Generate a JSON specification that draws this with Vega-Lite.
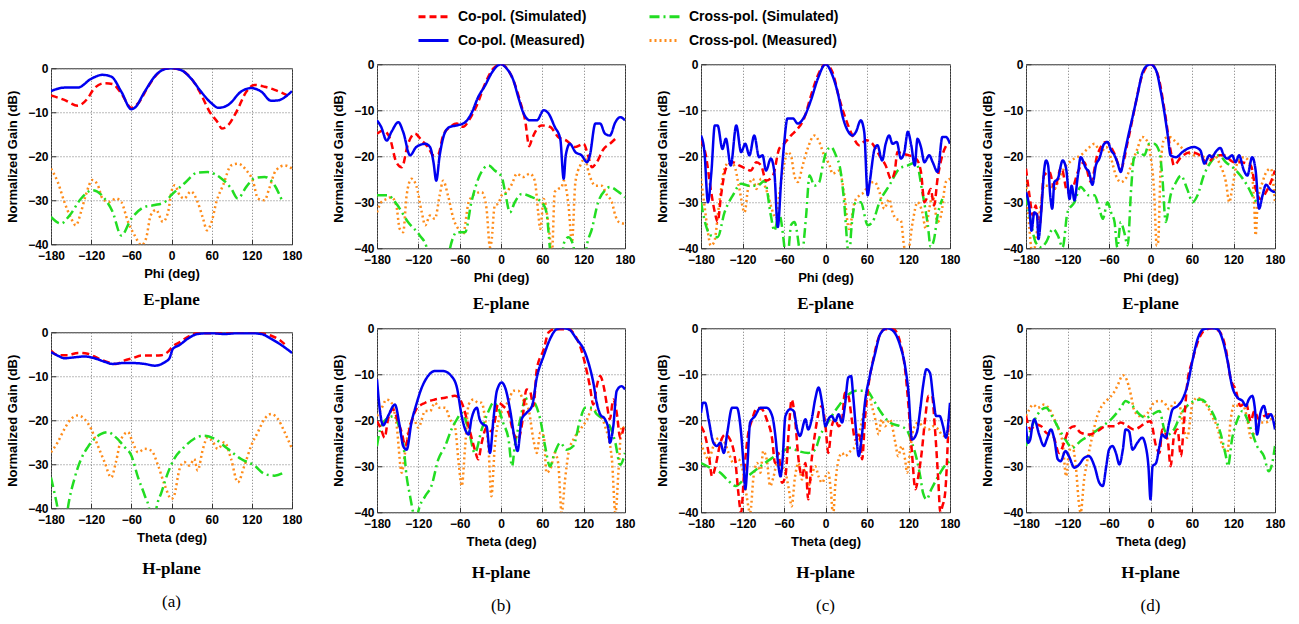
{
"$schema": "https://vega.github.io/schema/vega-lite/v6.json",
"background": "white",
"padding": {"left": 6, "top": 0, "right": 5, "bottom": 5},
"datasets": {
"a1": [
{"s":"xm","x":-180,"y":-22.8},{"s":"xm","x":-170,"y":-25.8},{"s":"xm","x":-160,"y":-30.4},{"s":"xm","x":-150,"y":-34.1},{"s":"xm","x":-143,"y":-35.7},{"s":"xm","x":-135,"y":-32.6},{"s":"xm","x":-128,"y":-28.8},{"s":"xm","x":-118,"y":-25.4},{"s":"xm","x":-110,"y":-26.6},{"s":"xm","x":-103,"y":-29.6},{"s":"xm","x":-93,"y":-30.4},{"s":"xm","x":-83,"y":-29.6},{"s":"xm","x":-75,"y":-30.4},{"s":"xm","x":-65,"y":-34.9},{"s":"xm","x":-55,"y":-38},{"s":"xm","x":-45,"y":-40.2},{"s":"xm","x":-38,"y":-38.7},{"s":"xm","x":-31,"y":-33.4},{"s":"xm","x":-23,"y":-32.2},{"s":"xm","x":-13,"y":-34.9},{"s":"xm","x":-5,"y":-32.6},{"s":"xm","x":0,"y":-28},{"s":"xm","x":5,"y":-26.6},{"s":"xm","x":12,"y":-28.8},{"s":"xm","x":19,"y":-29.6},{"s":"xm","x":29,"y":-28},{"s":"xm","x":39,"y":-30.4},{"s":"xm","x":47,"y":-34.1},{"s":"xm","x":53,"y":-36.8},{"s":"xm","x":60,"y":-34.9},{"s":"xm","x":67,"y":-30.4},{"s":"xm","x":77,"y":-26.6},{"s":"xm","x":89,"y":-22.1},{"s":"xm","x":99,"y":-21.7},{"s":"xm","x":112,"y":-23.2},{"s":"xm","x":122,"y":-25.8},{"s":"xm","x":129,"y":-29.6},{"s":"xm","x":139,"y":-30},{"s":"xm","x":146,"y":-27.3},{"s":"xm","x":156,"y":-23.2},{"s":"xm","x":169,"y":-22.1},{"s":"xm","x":180,"y":-22.8},
{"s":"xs","x":-180,"y":-33.8},{"s":"xs","x":-165,"y":-35.3},{"s":"xs","x":-152,"y":-33.4},{"s":"xs","x":-135,"y":-29.6},{"s":"xs","x":-118,"y":-27.7},{"s":"xs","x":-100,"y":-29.6},{"s":"xs","x":-88,"y":-32.6},{"s":"xs","x":-75,"y":-38},{"s":"xs","x":-60,"y":-34.2},{"s":"xs","x":-40,"y":-31.5},{"s":"xs","x":-25,"y":-31.1},{"s":"xs","x":-10,"y":-30.4},{"s":"xs","x":0,"y":-28.8},{"s":"xs","x":19,"y":-26.2},{"s":"xs","x":39,"y":-23.7},{"s":"xs","x":54,"y":-23.6},{"s":"xs","x":74,"y":-25},{"s":"xs","x":89,"y":-27.3},{"s":"xs","x":99,"y":-29.6},{"s":"xs","x":112,"y":-26.9},{"s":"xs","x":124,"y":-25},{"s":"xs","x":139,"y":-24.7},{"s":"xs","x":154,"y":-26.6},{"s":"xs","x":166,"y":-30.4},
{"s":"cs","x":-180,"y":-6.2},{"s":"cs","x":-160,"y":-7.2},{"s":"cs","x":-140,"y":-8.5},{"s":"cs","x":-125,"y":-6.8},{"s":"cs","x":-115,"y":-4.5},{"s":"cs","x":-100,"y":-3.4},{"s":"cs","x":-88,"y":-3.6},{"s":"cs","x":-75,"y":-5.7},{"s":"cs","x":-60,"y":-9},{"s":"cs","x":-50,"y":-8},{"s":"cs","x":-35,"y":-4.2},{"s":"cs","x":-20,"y":-1.1},{"s":"cs","x":-5,"y":0},{"s":"cs","x":10,"y":-0.2},{"s":"cs","x":27,"y":-1.9},{"s":"cs","x":42,"y":-5.3},{"s":"cs","x":57,"y":-9.9},{"s":"cs","x":70,"y":-12.5},{"s":"cs","x":75,"y":-13.7},{"s":"cs","x":85,"y":-12.9},{"s":"cs","x":97,"y":-9.9},{"s":"cs","x":112,"y":-5.3},{"s":"cs","x":124,"y":-3.8},{"s":"cs","x":139,"y":-4.2},{"s":"cs","x":154,"y":-4.9},{"s":"cs","x":174,"y":-6.2},
{"s":"cm","x":-180,"y":-5.2},{"s":"cm","x":-160,"y":-4.4},{"s":"cm","x":-140,"y":-4.4},{"s":"cm","x":-120,"y":-2.4},{"s":"cm","x":-103,"y":-1.5},{"s":"cm","x":-90,"y":-1.9},{"s":"cm","x":-75,"y":-5.3},{"s":"cm","x":-60,"y":-9.3},{"s":"cm","x":-55,"y":-9},{"s":"cm","x":-40,"y":-5.3},{"s":"cm","x":-23,"y":-1.5},{"s":"cm","x":-10,"y":-0.2},{"s":"cm","x":0,"y":0},{"s":"cm","x":14,"y":-0.4},{"s":"cm","x":29,"y":-2.3},{"s":"cm","x":44,"y":-5.3},{"s":"cm","x":60,"y":-8},{"s":"cm","x":70,"y":-9},{"s":"cm","x":85,"y":-8.3},{"s":"cm","x":104,"y":-5.3},{"s":"cm","x":119,"y":-4.5},{"s":"cm","x":134,"y":-5.3},{"s":"cm","x":149,"y":-7.4},{"s":"cm","x":159,"y":-7.3},{"s":"cm","x":180,"y":-5.2}
],
"b1": [
{"s":"xm","x":-180,"y":-32.2},{"s":"xm","x":-174,"y":-30},{"s":"xm","x":-166,"y":-29.3},{"s":"xm","x":-159,"y":-28.9},{"s":"xm","x":-152,"y":-30.7},{"s":"xm","x":-147,"y":-35.8},{"s":"xm","x":-142,"y":-36.5},{"s":"xm","x":-137,"y":-28.5},{"s":"xm","x":-130,"y":-24.9},{"s":"xm","x":-123,"y":-26.4},{"s":"xm","x":-115,"y":-32.2},{"s":"xm","x":-110,"y":-35},{"s":"xm","x":-103,"y":-32.9},{"s":"xm","x":-96,"y":-33.6},{"s":"xm","x":-89,"y":-28.5},{"s":"xm","x":-84,"y":-25.3},{"s":"xm","x":-77,"y":-28.5},{"s":"xm","x":-69,"y":-33.6},{"s":"xm","x":-62,"y":-35.8},{"s":"xm","x":-55,"y":-36.9},{"s":"xm","x":-47,"y":-30},{"s":"xm","x":-38,"y":-28.2},{"s":"xm","x":-28,"y":-27.8},{"s":"xm","x":-21,"y":-31.4},{"s":"xm","x":-16,"y":-39.8},{"s":"xm","x":-14,"y":-38.7},{"s":"xm","x":-9,"y":-30.7},{"s":"xm","x":-4,"y":-30.3},{"s":"xm","x":1,"y":-28.5},{"s":"xm","x":8,"y":-27.8},{"s":"xm","x":16,"y":-26},{"s":"xm","x":23,"y":-23.8},{"s":"xm","x":32,"y":-24.5},{"s":"xm","x":42,"y":-23.8},{"s":"xm","x":49,"y":-25.3},{"s":"xm","x":54,"y":-32.2},{"s":"xm","x":57,"y":-35.8},{"s":"xm","x":62,"y":-29.3},{"s":"xm","x":69,"y":-35},{"s":"xm","x":74,"y":-40.9},{"s":"xm","x":78,"y":-27.8},{"s":"xm","x":83,"y":-27.1},{"s":"xm","x":88,"y":-26.7},{"s":"xm","x":91,"y":-25.3},{"s":"xm","x":98,"y":-30.7},{"s":"xm","x":103,"y":-38.7},{"s":"xm","x":108,"y":-25.6},{"s":"xm","x":115,"y":-22},{"s":"xm","x":122,"y":-20.5},{"s":"xm","x":127,"y":-23.4},{"s":"xm","x":137,"y":-26.4},{"s":"xm","x":146,"y":-26.4},{"s":"xm","x":154,"y":-28.5},{"s":"xm","x":161,"y":-30},{"s":"xm","x":166,"y":-32.9},{"s":"xm","x":171,"y":-34.3},{"s":"xm","x":180,"y":-34.7},
{"s":"xs","x":-180,"y":-28.5},{"s":"xs","x":-164,"y":-28.5},{"s":"xs","x":-152,"y":-30.3},{"s":"xs","x":-135,"y":-34.3},{"s":"xs","x":-118,"y":-37.2},{"s":"xs","x":-108,"y":-39.8},{"s":"xs","x":-104,"y":-45},{"s":"xs","x":-80,"y":-45},{"s":"xs","x":-74,"y":-40},{"s":"xs","x":-64,"y":-36.5},{"s":"xs","x":-52,"y":-36.5},{"s":"xs","x":-43,"y":-30},{"s":"xs","x":-31,"y":-24.2},{"s":"xs","x":-18,"y":-22},{"s":"xs","x":-9,"y":-23.1},{"s":"xs","x":1,"y":-24.5},{"s":"xs","x":6,"y":-27.8},{"s":"xs","x":13,"y":-32.2},{"s":"xs","x":20,"y":-30},{"s":"xs","x":30,"y":-28.2},{"s":"xs","x":45,"y":-28.9},{"s":"xs","x":59,"y":-30},{"s":"xs","x":66,"y":-32.2},{"s":"xs","x":71,"y":-40.1},{"s":"xs","x":75,"y":-46},{"s":"xs","x":87,"y":-46},{"s":"xs","x":91,"y":-39},{"s":"xs","x":98,"y":-37.6},{"s":"xs","x":105,"y":-39.4},{"s":"xs","x":109,"y":-45},{"s":"xs","x":120,"y":-45},{"s":"xs","x":124,"y":-40},{"s":"xs","x":132,"y":-35.8},{"s":"xs","x":141,"y":-30},{"s":"xs","x":151,"y":-27.4},{"s":"xs","x":158,"y":-26.7},{"s":"xs","x":171,"y":-27.8},{"s":"xs","x":180,"y":-28.9},
{"s":"cs","x":-180,"y":-15.1},{"s":"cs","x":-171,"y":-14.4},{"s":"cs","x":-161,"y":-16.2},{"s":"cs","x":-152,"y":-21.3},{"s":"cs","x":-144,"y":-22.4},{"s":"cs","x":-135,"y":-17.3},{"s":"cs","x":-125,"y":-15.1},{"s":"cs","x":-115,"y":-16.6},{"s":"cs","x":-106,"y":-18},{"s":"cs","x":-98,"y":-19.8},{"s":"cs","x":-91,"y":-19.5},{"s":"cs","x":-84,"y":-15.5},{"s":"cs","x":-74,"y":-13.6},{"s":"cs","x":-64,"y":-12.9},{"s":"cs","x":-55,"y":-13.6},{"s":"cs","x":-45,"y":-11.8},{"s":"cs","x":-35,"y":-8.9},{"s":"cs","x":-23,"y":-4.2},{"s":"cs","x":-11,"y":-0.9},{"s":"cs","x":0,"y":0},{"s":"cs","x":8,"y":-0.8},{"s":"cs","x":18,"y":-3.5},{"s":"cs","x":28,"y":-8.2},{"s":"cs","x":35,"y":-12.2},{"s":"cs","x":41,"y":-17.8},{"s":"cs","x":45,"y":-16.2},{"s":"cs","x":59,"y":-13.3},{"s":"cs","x":71,"y":-13.6},{"s":"cs","x":83,"y":-15.8},{"s":"cs","x":95,"y":-16.6},{"s":"cs","x":108,"y":-18},{"s":"cs","x":120,"y":-17.3},{"s":"cs","x":127,"y":-20.2},{"s":"cs","x":132,"y":-22.4},{"s":"cs","x":139,"y":-21.3},{"s":"cs","x":149,"y":-18.4},{"s":"cs","x":158,"y":-17.3},{"s":"cs","x":166,"y":-16.2},
{"s":"cm","x":-180,"y":-12.2},{"s":"cm","x":-174,"y":-13.6},{"s":"cm","x":-166,"y":-16.6},{"s":"cm","x":-159,"y":-14.7},{"s":"cm","x":-149,"y":-12.6},{"s":"cm","x":-142,"y":-14.7},{"s":"cm","x":-132,"y":-19.8},{"s":"cm","x":-123,"y":-18},{"s":"cm","x":-110,"y":-17.3},{"s":"cm","x":-103,"y":-18},{"s":"cm","x":-98,"y":-21.3},{"s":"cm","x":-94,"y":-25.3},{"s":"cm","x":-89,"y":-19.8},{"s":"cm","x":-81,"y":-14.7},{"s":"cm","x":-74,"y":-13.6},{"s":"cm","x":-64,"y":-13.3},{"s":"cm","x":-52,"y":-12.6},{"s":"cm","x":-43,"y":-10.7},{"s":"cm","x":-33,"y":-7.1},{"s":"cm","x":-23,"y":-4.6},{"s":"cm","x":-14,"y":-2},{"s":"cm","x":-4,"y":-0.2},{"s":"cm","x":0,"y":0},{"s":"cm","x":8,"y":-0.9},{"s":"cm","x":18,"y":-3.5},{"s":"cm","x":25,"y":-7.1},{"s":"cm","x":32,"y":-10.4},{"s":"cm","x":42,"y":-12.2},{"s":"cm","x":52,"y":-12.2},{"s":"cm","x":62,"y":-10},{"s":"cm","x":69,"y":-10.7},{"s":"cm","x":78,"y":-13.6},{"s":"cm","x":86,"y":-16.2},{"s":"cm","x":91,"y":-24.9},{"s":"cm","x":94,"y":-19.8},{"s":"cm","x":100,"y":-17.3},{"s":"cm","x":108,"y":-19.1},{"s":"cm","x":117,"y":-19.8},{"s":"cm","x":125,"y":-21.3},{"s":"cm","x":129,"y":-19.8},{"s":"cm","x":137,"y":-12.9},{"s":"cm","x":144,"y":-12.9},{"s":"cm","x":151,"y":-15.1},{"s":"cm","x":158,"y":-15.5},{"s":"cm","x":166,"y":-12.6},{"s":"cm","x":173,"y":-11.5},{"s":"cm","x":180,"y":-12.2}
],
"c1": [
{"s":"xm","x":-180,"y":-24.9},{"s":"xm","x":-175,"y":-30.7},{"s":"xm","x":-170,"y":-36.5},{"s":"xm","x":-166,"y":-39.4},{"s":"xm","x":-161,"y":-38.7},{"s":"xm","x":-154,"y":-30.7},{"s":"xm","x":-146,"y":-22.7},{"s":"xm","x":-139,"y":-21.3},{"s":"xm","x":-132,"y":-22},{"s":"xm","x":-125,"y":-26.7},{"s":"xm","x":-117,"y":-32.2},{"s":"xm","x":-112,"y":-27.1},{"s":"xm","x":-105,"y":-24.9},{"s":"xm","x":-100,"y":-27.1},{"s":"xm","x":-93,"y":-24.9},{"s":"xm","x":-86,"y":-27.1},{"s":"xm","x":-76,"y":-32.2},{"s":"xm","x":-72,"y":-33.6},{"s":"xm","x":-67,"y":-28.5},{"s":"xm","x":-60,"y":-22},{"s":"xm","x":-55,"y":-19.1},{"s":"xm","x":-50,"y":-19.8},{"s":"xm","x":-45,"y":-24.2},{"s":"xm","x":-40,"y":-25.6},{"s":"xm","x":-33,"y":-22},{"s":"xm","x":-26,"y":-18.4},{"s":"xm","x":-16,"y":-15.5},{"s":"xm","x":-9,"y":-16.9},{"s":"xm","x":-2,"y":-19.8},{"s":"xm","x":6,"y":-22},{"s":"xm","x":10,"y":-23.8},{"s":"xm","x":20,"y":-23.1},{"s":"xm","x":27,"y":-28.2},{"s":"xm","x":34,"y":-35.8},{"s":"xm","x":42,"y":-30},{"s":"xm","x":49,"y":-28.5},{"s":"xm","x":56,"y":-27.8},{"s":"xm","x":63,"y":-26},{"s":"xm","x":71,"y":-25.6},{"s":"xm","x":78,"y":-27.8},{"s":"xm","x":85,"y":-31.4},{"s":"xm","x":92,"y":-29.3},{"s":"xm","x":97,"y":-32.2},{"s":"xm","x":102,"y":-33.6},{"s":"xm","x":109,"y":-34},{"s":"xm","x":114,"y":-39.8},{"s":"xm","x":119,"y":-40.9},{"s":"xm","x":126,"y":-34.3},{"s":"xm","x":133,"y":-30},{"s":"xm","x":140,"y":-32.2},{"s":"xm","x":145,"y":-35.8},{"s":"xm","x":150,"y":-31.4},{"s":"xm","x":155,"y":-28.5},{"s":"xm","x":162,"y":-34.3},{"s":"xm","x":167,"y":-32.9},{"s":"xm","x":174,"y":-25.6},{"s":"xm","x":180,"y":-24.9},
{"s":"xs","x":-180,"y":-30},{"s":"xs","x":-173,"y":-35},{"s":"xs","x":-166,"y":-37.2},{"s":"xs","x":-156,"y":-37.6},{"s":"xs","x":-146,"y":-32.2},{"s":"xs","x":-134,"y":-28.5},{"s":"xs","x":-122,"y":-26},{"s":"xs","x":-110,"y":-26.4},{"s":"xs","x":-98,"y":-26.4},{"s":"xs","x":-88,"y":-25.3},{"s":"xs","x":-79,"y":-32.9},{"s":"xs","x":-74,"y":-36.2},{"s":"xs","x":-67,"y":-32.5},{"s":"xs","x":-60,"y":-39},{"s":"xs","x":-56,"y":-45},{"s":"xs","x":-52,"y":-38},{"s":"xs","x":-50,"y":-35},{"s":"xs","x":-45,"y":-34.3},{"s":"xs","x":-38,"y":-40.1},{"s":"xs","x":-35,"y":-44},{"s":"xs","x":-31,"y":-38},{"s":"xs","x":-28,"y":-32.9},{"s":"xs","x":-23,"y":-24.2},{"s":"xs","x":-16,"y":-26.4},{"s":"xs","x":-9,"y":-25.6},{"s":"xs","x":-4,"y":-22},{"s":"xs","x":1,"y":-19.1},{"s":"xs","x":8,"y":-18},{"s":"xs","x":15,"y":-19.8},{"s":"xs","x":22,"y":-23.4},{"s":"xs","x":27,"y":-30},{"s":"xs","x":32,"y":-40.1},{"s":"xs","x":34,"y":-43},{"s":"xs","x":37,"y":-36.5},{"s":"xs","x":44,"y":-30},{"s":"xs","x":51,"y":-30},{"s":"xs","x":61,"y":-35},{"s":"xs","x":68,"y":-34.3},{"s":"xs","x":78,"y":-30},{"s":"xs","x":92,"y":-26.4},{"s":"xs","x":107,"y":-22.7},{"s":"xs","x":119,"y":-22},{"s":"xs","x":131,"y":-21.3},{"s":"xs","x":140,"y":-27.8},{"s":"xs","x":148,"y":-35},{"s":"xs","x":152,"y":-39.7},{"s":"xs","x":157,"y":-38},{"s":"xs","x":162,"y":-32.9},{"s":"xs","x":169,"y":-29.3},
{"s":"cs","x":-180,"y":-16.5},{"s":"cs","x":-173,"y":-19.8},{"s":"cs","x":-166,"y":-27.1},{"s":"cs","x":-160,"y":-32.2},{"s":"cs","x":-156,"y":-34.3},{"s":"cs","x":-151,"y":-28.5},{"s":"cs","x":-144,"y":-22.7},{"s":"cs","x":-134,"y":-21.3},{"s":"cs","x":-125,"y":-22},{"s":"cs","x":-115,"y":-22.7},{"s":"cs","x":-108,"y":-23.1},{"s":"cs","x":-100,"y":-21.3},{"s":"cs","x":-93,"y":-22},{"s":"cs","x":-86,"y":-25.3},{"s":"cs","x":-76,"y":-24.2},{"s":"cs","x":-67,"y":-18.4},{"s":"cs","x":-60,"y":-17.3},{"s":"cs","x":-50,"y":-15.5},{"s":"cs","x":-40,"y":-14},{"s":"cs","x":-31,"y":-11.8},{"s":"cs","x":-21,"y":-6.8},{"s":"cs","x":-11,"y":-2.4},{"s":"cs","x":0,"y":0},{"s":"cs","x":10,"y":-1.7},{"s":"cs","x":20,"y":-7.5},{"s":"cs","x":30,"y":-12.2},{"s":"cs","x":39,"y":-15.5},{"s":"cs","x":49,"y":-17.6},{"s":"cs","x":59,"y":-16.5},{"s":"cs","x":68,"y":-17.3},{"s":"cs","x":78,"y":-19.8},{"s":"cs","x":87,"y":-22},{"s":"cs","x":95,"y":-25},{"s":"cs","x":100,"y":-23.4},{"s":"cs","x":104,"y":-19.1},{"s":"cs","x":112,"y":-19.5},{"s":"cs","x":121,"y":-19.8},{"s":"cs","x":131,"y":-20.5},{"s":"cs","x":138,"y":-23.4},{"s":"cs","x":143,"y":-30},{"s":"cs","x":148,"y":-28.5},{"s":"cs","x":152,"y":-27.1},{"s":"cs","x":157,"y":-30.7},{"s":"cs","x":162,"y":-24.9},{"s":"cs","x":169,"y":-19.8},{"s":"cs","x":176,"y":-17.3},
{"s":"cm","x":-180,"y":-15.5},{"s":"cm","x":-175,"y":-19.1},{"s":"cm","x":-170,"y":-30},{"s":"cm","x":-165,"y":-23.5},{"s":"cm","x":-160,"y":-13.3},{"s":"cm","x":-156,"y":-13.3},{"s":"cm","x":-149,"y":-18.4},{"s":"cm","x":-144,"y":-16.2},{"s":"cm","x":-137,"y":-22},{"s":"cm","x":-129,"y":-13.3},{"s":"cm","x":-122,"y":-19.1},{"s":"cm","x":-116,"y":-17.3},{"s":"cm","x":-110,"y":-19.8},{"s":"cm","x":-103,"y":-15.5},{"s":"cm","x":-96,"y":-20.2},{"s":"cm","x":-91,"y":-19.8},{"s":"cm","x":-86,"y":-23.1},{"s":"cm","x":-79,"y":-20.5},{"s":"cm","x":-74,"y":-23.4},{"s":"cm","x":-69,"y":-35.4},{"s":"cm","x":-64,"y":-24.9},{"s":"cm","x":-60,"y":-17.6},{"s":"cm","x":-55,"y":-11.8},{"s":"cm","x":-47,"y":-11.8},{"s":"cm","x":-40,"y":-12.9},{"s":"cm","x":-31,"y":-11.5},{"s":"cm","x":-21,"y":-7.8},{"s":"cm","x":-11,"y":-3.1},{"s":"cm","x":0,"y":0},{"s":"cm","x":10,"y":-2.4},{"s":"cm","x":18,"y":-6.4},{"s":"cm","x":25,"y":-11.5},{"s":"cm","x":32,"y":-14.4},{"s":"cm","x":39,"y":-15.5},{"s":"cm","x":44,"y":-14.7},{"s":"cm","x":51,"y":-12.2},{"s":"cm","x":56,"y":-14.7},{"s":"cm","x":61,"y":-28.5},{"s":"cm","x":64,"y":-25.6},{"s":"cm","x":71,"y":-18.4},{"s":"cm","x":75,"y":-17.6},{"s":"cm","x":82,"y":-20.9},{"s":"cm","x":87,"y":-17.3},{"s":"cm","x":92,"y":-15.5},{"s":"cm","x":97,"y":-17.3},{"s":"cm","x":103,"y":-16.9},{"s":"cm","x":109,"y":-20.5},{"s":"cm","x":114,"y":-19.1},{"s":"cm","x":119,"y":-14.7},{"s":"cm","x":124,"y":-17.6},{"s":"cm","x":129,"y":-22},{"s":"cm","x":133,"y":-16.2},{"s":"cm","x":138,"y":-18},{"s":"cm","x":143,"y":-21.3},{"s":"cm","x":150,"y":-19.8},{"s":"cm","x":155,"y":-21.3},{"s":"cm","x":162,"y":-23.4},{"s":"cm","x":169,"y":-15.8},{"s":"cm","x":174,"y":-15.8},{"s":"cm","x":180,"y":-17.3}
],
"d1": [
{"s":"xm","x":-180,"y":-25.6},{"s":"xm","x":-175,"y":-35.8},{"s":"xm","x":-172,"y":-40.1},{"s":"xm","x":-168,"y":-40},{"s":"xm","x":-163,"y":-35},{"s":"xm","x":-158,"y":-30},{"s":"xm","x":-154,"y":-26.4},{"s":"xm","x":-146,"y":-26.4},{"s":"xm","x":-139,"y":-27.1},{"s":"xm","x":-132,"y":-24.9},{"s":"xm","x":-125,"y":-22.7},{"s":"xm","x":-117,"y":-21.3},{"s":"xm","x":-110,"y":-20.5},{"s":"xm","x":-101,"y":-19.8},{"s":"xm","x":-91,"y":-18.4},{"s":"xm","x":-81,"y":-17.3},{"s":"xm","x":-72,"y":-19.1},{"s":"xm","x":-64,"y":-18},{"s":"xm","x":-57,"y":-20.5},{"s":"xm","x":-50,"y":-24.2},{"s":"xm","x":-43,"y":-25.6},{"s":"xm","x":-36,"y":-24.9},{"s":"xm","x":-28,"y":-22},{"s":"xm","x":-19,"y":-18.4},{"s":"xm","x":-12,"y":-15.8},{"s":"xm","x":-4,"y":-16.9},{"s":"xm","x":0,"y":-19.8},{"s":"xm","x":5,"y":-27.1},{"s":"xm","x":9,"y":-39.4},{"s":"xm","x":11,"y":-38.7},{"s":"xm","x":15,"y":-21.3},{"s":"xm","x":20,"y":-16.2},{"s":"xm","x":27,"y":-15.8},{"s":"xm","x":34,"y":-16.5},{"s":"xm","x":44,"y":-18},{"s":"xm","x":53,"y":-19.1},{"s":"xm","x":63,"y":-19.8},{"s":"xm","x":72,"y":-19.8},{"s":"xm","x":82,"y":-20.5},{"s":"xm","x":92,"y":-19.8},{"s":"xm","x":101,"y":-22},{"s":"xm","x":109,"y":-25.6},{"s":"xm","x":114,"y":-30},{"s":"xm","x":118,"y":-27.1},{"s":"xm","x":126,"y":-21.3},{"s":"xm","x":135,"y":-20.2},{"s":"xm","x":145,"y":-22},{"s":"xm","x":150,"y":-30.7},{"s":"xm","x":152,"y":-37.2},{"s":"xm","x":155,"y":-30},{"s":"xm","x":162,"y":-25.6},{"s":"xm","x":169,"y":-23.1},{"s":"xm","x":174,"y":-22.7},{"s":"xm","x":180,"y":-30},
{"s":"xs","x":-180,"y":-28.5},{"s":"xs","x":-173,"y":-34.3},{"s":"xs","x":-166,"y":-38.7},{"s":"xs","x":-158,"y":-39.8},{"s":"xs","x":-151,"y":-38.7},{"s":"xs","x":-141,"y":-35.8},{"s":"xs","x":-134,"y":-37.2},{"s":"xs","x":-127,"y":-39.8},{"s":"xs","x":-120,"y":-32.2},{"s":"xs","x":-110,"y":-30},{"s":"xs","x":-101,"y":-26.7},{"s":"xs","x":-89,"y":-28.5},{"s":"xs","x":-81,"y":-28.5},{"s":"xs","x":-74,"y":-31.4},{"s":"xs","x":-69,"y":-33.6},{"s":"xs","x":-62,"y":-30},{"s":"xs","x":-57,"y":-32.2},{"s":"xs","x":-52,"y":-34.3},{"s":"xs","x":-48,"y":-39.8},{"s":"xs","x":-43,"y":-34.3},{"s":"xs","x":-38,"y":-36.5},{"s":"xs","x":-33,"y":-39.4},{"s":"xs","x":-28,"y":-27.1},{"s":"xs","x":-24,"y":-20.5},{"s":"xs","x":-16,"y":-19.1},{"s":"xs","x":-9,"y":-19.8},{"s":"xs","x":-2,"y":-17.3},{"s":"xs","x":5,"y":-17.3},{"s":"xs","x":13,"y":-19.1},{"s":"xs","x":17,"y":-24.2},{"s":"xs","x":22,"y":-34.3},{"s":"xs","x":29,"y":-28.5},{"s":"xs","x":37,"y":-25.6},{"s":"xs","x":44,"y":-24.2},{"s":"xs","x":53,"y":-27.1},{"s":"xs","x":61,"y":-30},{"s":"xs","x":68,"y":-28.5},{"s":"xs","x":77,"y":-24.2},{"s":"xs","x":87,"y":-21.3},{"s":"xs","x":99,"y":-19.8},{"s":"xs","x":109,"y":-21.3},{"s":"xs","x":121,"y":-22.7},{"s":"xs","x":130,"y":-24.2},{"s":"xs","x":140,"y":-26.4},{"s":"xs","x":150,"y":-29.3},{"s":"xs","x":157,"y":-30.7},
{"s":"cs","x":-180,"y":-22.7},{"s":"cs","x":-175,"y":-28.5},{"s":"cs","x":-170,"y":-32.9},{"s":"cs","x":-166,"y":-30.7},{"s":"cs","x":-161,"y":-35.8},{"s":"cs","x":-154,"y":-24.2},{"s":"cs","x":-146,"y":-23.4},{"s":"cs","x":-139,"y":-27.1},{"s":"cs","x":-129,"y":-22.4},{"s":"cs","x":-120,"y":-27.8},{"s":"cs","x":-113,"y":-27.1},{"s":"cs","x":-105,"y":-23.4},{"s":"cs","x":-96,"y":-21.3},{"s":"cs","x":-86,"y":-25.6},{"s":"cs","x":-77,"y":-19.8},{"s":"cs","x":-64,"y":-16.9},{"s":"cs","x":-52,"y":-19.5},{"s":"cs","x":-43,"y":-22.7},{"s":"cs","x":-33,"y":-16.9},{"s":"cs","x":-24,"y":-10.4},{"s":"cs","x":-12,"y":-2.4},{"s":"cs","x":0,"y":0},{"s":"cs","x":10,"y":-2},{"s":"cs","x":20,"y":-9.7},{"s":"cs","x":29,"y":-18.7},{"s":"cs","x":34,"y":-22},{"s":"cs","x":44,"y":-20.2},{"s":"cs","x":58,"y":-19.1},{"s":"cs","x":72,"y":-19.8},{"s":"cs","x":82,"y":-21.6},{"s":"cs","x":94,"y":-19.8},{"s":"cs","x":106,"y":-19.8},{"s":"cs","x":121,"y":-21.3},{"s":"cs","x":130,"y":-21.3},{"s":"cs","x":145,"y":-22},{"s":"cs","x":152,"y":-27.1},{"s":"cs","x":159,"y":-29.3},{"s":"cs","x":167,"y":-27.8},{"s":"cs","x":174,"y":-25.6},{"s":"cs","x":180,"y":-23.1},
{"s":"cm","x":-180,"y":-27.8},{"s":"cm","x":-175,"y":-31.4},{"s":"cm","x":-172,"y":-36.2},{"s":"cm","x":-168,"y":-32.2},{"s":"cm","x":-164,"y":-32.9},{"s":"cm","x":-162,"y":-38},{"s":"cm","x":-158,"y":-32.2},{"s":"cm","x":-154,"y":-23.4},{"s":"cm","x":-151,"y":-20.9},{"s":"cm","x":-148,"y":-22},{"s":"cm","x":-145,"y":-28.5},{"s":"cm","x":-142,"y":-31.4},{"s":"cm","x":-139,"y":-25.6},{"s":"cm","x":-134,"y":-24.9},{"s":"cm","x":-127,"y":-20.9},{"s":"cm","x":-122,"y":-22.7},{"s":"cm","x":-117,"y":-29.3},{"s":"cm","x":-114,"y":-26.4},{"s":"cm","x":-110,"y":-29.6},{"s":"cm","x":-105,"y":-24.2},{"s":"cm","x":-101,"y":-20.2},{"s":"cm","x":-93,"y":-22.7},{"s":"cm","x":-89,"y":-23.4},{"s":"cm","x":-84,"y":-26.2},{"s":"cm","x":-79,"y":-22},{"s":"cm","x":-74,"y":-20.5},{"s":"cm","x":-67,"y":-17.3},{"s":"cm","x":-62,"y":-16.9},{"s":"cm","x":-57,"y":-18.7},{"s":"cm","x":-52,"y":-19.8},{"s":"cm","x":-48,"y":-21.3},{"s":"cm","x":-43,"y":-23.4},{"s":"cm","x":-38,"y":-19.8},{"s":"cm","x":-33,"y":-16.2},{"s":"cm","x":-26,"y":-11.5},{"s":"cm","x":-19,"y":-6.8},{"s":"cm","x":-12,"y":-2},{"s":"cm","x":-4,"y":-0.2},{"s":"cm","x":0,"y":0},{"s":"cm","x":8,"y":-1.3},{"s":"cm","x":15,"y":-6},{"s":"cm","x":20,"y":-10.4},{"s":"cm","x":25,"y":-15.5},{"s":"cm","x":29,"y":-19.8},{"s":"cm","x":37,"y":-20.2},{"s":"cm","x":46,"y":-19.1},{"s":"cm","x":53,"y":-18.4},{"s":"cm","x":63,"y":-18},{"s":"cm","x":72,"y":-18.7},{"s":"cm","x":78,"y":-21.6},{"s":"cm","x":85,"y":-19.8},{"s":"cm","x":89,"y":-20.2},{"s":"cm","x":94,"y":-19.1},{"s":"cm","x":101,"y":-18.2},{"s":"cm","x":106,"y":-19.8},{"s":"cm","x":111,"y":-20.5},{"s":"cm","x":118,"y":-19.8},{"s":"cm","x":123,"y":-21.3},{"s":"cm","x":128,"y":-19.8},{"s":"cm","x":135,"y":-23.1},{"s":"cm","x":140,"y":-24.2},{"s":"cm","x":147,"y":-20.2},{"s":"cm","x":152,"y":-23.1},{"s":"cm","x":157,"y":-31.4},{"s":"cm","x":162,"y":-28.5},{"s":"cm","x":167,"y":-26.2},{"s":"cm","x":174,"y":-27.4},{"s":"cm","x":180,"y":-27.8}
],
"a2": [
{"s":"xm","x":-180,"y":-27.3},{"s":"xm","x":-170,"y":-25},{"s":"xm","x":-160,"y":-22},{"s":"xm","x":-150,"y":-19.7},{"s":"xm","x":-140,"y":-18.9},{"s":"xm","x":-130,"y":-19.7},{"s":"xm","x":-120,"y":-22},{"s":"xm","x":-110,"y":-25.8},{"s":"xm","x":-100,"y":-29.5},{"s":"xm","x":-90,"y":-33},{"s":"xm","x":-83,"y":-29.5},{"s":"xm","x":-75,"y":-24.2},{"s":"xm","x":-65,"y":-22.7},{"s":"xm","x":-58,"y":-25},{"s":"xm","x":-50,"y":-27.3},{"s":"xm","x":-40,"y":-26.5},{"s":"xm","x":-30,"y":-26.9},{"s":"xm","x":-20,"y":-30.3},{"s":"xm","x":-10,"y":-34.8},{"s":"xm","x":0,"y":-37.9},{"s":"xm","x":4,"y":-37.1},{"s":"xm","x":12,"y":-31.1},{"s":"xm","x":19,"y":-29.5},{"s":"xm","x":27,"y":-30.3},{"s":"xm","x":34,"y":-28.8},{"s":"xm","x":39,"y":-31.4},{"s":"xm","x":47,"y":-26.5},{"s":"xm","x":54,"y":-23.9},{"s":"xm","x":62,"y":-25},{"s":"xm","x":69,"y":-26.5},{"s":"xm","x":79,"y":-25},{"s":"xm","x":89,"y":-28.8},{"s":"xm","x":99,"y":-34.1},{"s":"xm","x":109,"y":-30.3},{"s":"xm","x":119,"y":-25.8},{"s":"xm","x":129,"y":-22.7},{"s":"xm","x":139,"y":-19.7},{"s":"xm","x":149,"y":-18.6},{"s":"xm","x":159,"y":-19.7},{"s":"xm","x":169,"y":-22.7},{"s":"xm","x":180,"y":-26.5},
{"s":"xs","x":-180,"y":-33},{"s":"xs","x":-175,"y":-36.4},{"s":"xs","x":-170,"y":-40.2},{"s":"xs","x":-166,"y":-45},{"s":"xs","x":-159,"y":-45},{"s":"xs","x":-155,"y":-40.2},{"s":"xs","x":-145,"y":-33.3},{"s":"xs","x":-135,"y":-28.8},{"s":"xs","x":-125,"y":-26.1},{"s":"xs","x":-115,"y":-24.2},{"s":"xs","x":-105,"y":-23.1},{"s":"xs","x":-95,"y":-22.7},{"s":"xs","x":-83,"y":-23.9},{"s":"xs","x":-70,"y":-26.1},{"s":"xs","x":-60,"y":-28},{"s":"xs","x":-50,"y":-33},{"s":"xs","x":-40,"y":-37.1},{"s":"xs","x":-33,"y":-40.5},{"s":"xs","x":-30,"y":-45},{"s":"xs","x":-26,"y":-45},{"s":"xs","x":-23,"y":-40.5},{"s":"xs","x":-15,"y":-36.4},{"s":"xs","x":-5,"y":-31.8},{"s":"xs","x":4,"y":-28.8},{"s":"xs","x":19,"y":-26.1},{"s":"xs","x":34,"y":-24.2},{"s":"xs","x":49,"y":-23.5},{"s":"xs","x":64,"y":-24.2},{"s":"xs","x":84,"y":-26.5},{"s":"xs","x":104,"y":-28.8},{"s":"xs","x":124,"y":-30.3},{"s":"xs","x":139,"y":-32.2},{"s":"xs","x":154,"y":-32.6},{"s":"xs","x":169,"y":-31.8},
{"s":"cs","x":-180,"y":-4.2},{"s":"cs","x":-170,"y":-5.2},{"s":"cs","x":-155,"y":-5.2},{"s":"cs","x":-140,"y":-4.7},{"s":"cs","x":-125,"y":-4.9},{"s":"cs","x":-110,"y":-5.9},{"s":"cs","x":-95,"y":-6.8},{"s":"cs","x":-83,"y":-7.2},{"s":"cs","x":-70,"y":-6.4},{"s":"cs","x":-58,"y":-5.9},{"s":"cs","x":-45,"y":-5.3},{"s":"cs","x":-30,"y":-5.3},{"s":"cs","x":-15,"y":-5.2},{"s":"cs","x":-5,"y":-4.4},{"s":"cs","x":2,"y":-3.2},{"s":"cs","x":12,"y":-2.3},{"s":"cs","x":24,"y":-1.1},{"s":"cs","x":39,"y":-0.2},{"s":"cs","x":59,"y":-0.2},{"s":"cs","x":79,"y":-0.2},{"s":"cs","x":99,"y":0},{"s":"cs","x":119,"y":0},{"s":"cs","x":134,"y":-0.2},{"s":"cs","x":149,"y":-0.8},{"s":"cs","x":161,"y":-1.7},{"s":"cs","x":169,"y":-2.7},
{"s":"cm","x":-180,"y":-4.5},{"s":"cm","x":-170,"y":-5.3},{"s":"cm","x":-160,"y":-5.9},{"s":"cm","x":-145,"y":-5.7},{"s":"cm","x":-130,"y":-5.5},{"s":"cm","x":-115,"y":-5.9},{"s":"cm","x":-100,"y":-6.7},{"s":"cm","x":-88,"y":-7.2},{"s":"cm","x":-73,"y":-7},{"s":"cm","x":-58,"y":-7},{"s":"cm","x":-40,"y":-7.2},{"s":"cm","x":-25,"y":-7.6},{"s":"cm","x":-10,"y":-6.8},{"s":"cm","x":-3,"y":-5.9},{"s":"cm","x":2,"y":-3.8},{"s":"cm","x":12,"y":-2.9},{"s":"cm","x":24,"y":-1.5},{"s":"cm","x":39,"y":-0.4},{"s":"cm","x":59,"y":-0.2},{"s":"cm","x":79,"y":-0.4},{"s":"cm","x":99,"y":-0.2},{"s":"cm","x":119,"y":-0.2},{"s":"cm","x":134,"y":-0.4},{"s":"cm","x":149,"y":-1.5},{"s":"cm","x":164,"y":-2.9},{"s":"cm","x":180,"y":-4.7}
],
"b2": [
{"s":"xm","x":-180,"y":-19.1},{"s":"xm","x":-174,"y":-17.6},{"s":"xm","x":-166,"y":-15.5},{"s":"xm","x":-159,"y":-16.2},{"s":"xm","x":-152,"y":-20.5},{"s":"xm","x":-144,"y":-31.4},{"s":"xm","x":-140,"y":-27.8},{"s":"xm","x":-135,"y":-22.7},{"s":"xm","x":-127,"y":-19.8},{"s":"xm","x":-120,"y":-21.6},{"s":"xm","x":-110,"y":-18},{"s":"xm","x":-103,"y":-18},{"s":"xm","x":-96,"y":-16.2},{"s":"xm","x":-89,"y":-17.3},{"s":"xm","x":-81,"y":-17.3},{"s":"xm","x":-74,"y":-19.8},{"s":"xm","x":-67,"y":-21.3},{"s":"xm","x":-61,"y":-30},{"s":"xm","x":-57,"y":-34.3},{"s":"xm","x":-52,"y":-25.6},{"s":"xm","x":-47,"y":-16.6},{"s":"xm","x":-40,"y":-15.5},{"s":"xm","x":-33,"y":-16.2},{"s":"xm","x":-28,"y":-16.2},{"s":"xm","x":-23,"y":-19.8},{"s":"xm","x":-18,"y":-26.4},{"s":"xm","x":-14,"y":-36.5},{"s":"xm","x":-9,"y":-25.6},{"s":"xm","x":-3,"y":-19.8},{"s":"xm","x":3,"y":-17.6},{"s":"xm","x":11,"y":-15.8},{"s":"xm","x":18,"y":-13.6},{"s":"xm","x":25,"y":-13.6},{"s":"xm","x":32,"y":-15.5},{"s":"xm","x":40,"y":-17.6},{"s":"xm","x":47,"y":-24.2},{"s":"xm","x":52,"y":-27.1},{"s":"xm","x":57,"y":-22.7},{"s":"xm","x":62,"y":-23.4},{"s":"xm","x":66,"y":-31.4},{"s":"xm","x":73,"y":-30},{"s":"xm","x":78,"y":-27.1},{"s":"xm","x":83,"y":-29.3},{"s":"xm","x":88,"y":-40.1},{"s":"xm","x":93,"y":-32.9},{"s":"xm","x":98,"y":-27.1},{"s":"xm","x":105,"y":-24.2},{"s":"xm","x":115,"y":-22},{"s":"xm","x":125,"y":-19.8},{"s":"xm","x":132,"y":-17.6},{"s":"xm","x":141,"y":-18.4},{"s":"xm","x":151,"y":-21.3},{"s":"xm","x":161,"y":-28.5},{"s":"xm","x":166,"y":-40.1},{"s":"xm","x":171,"y":-30},{"s":"xm","x":175,"y":-21.3},{"s":"xm","x":180,"y":-22},
{"s":"xs","x":-180,"y":-25.6},{"s":"xs","x":-174,"y":-21.3},{"s":"xs","x":-164,"y":-19.5},{"s":"xs","x":-154,"y":-19.1},{"s":"xs","x":-147,"y":-22},{"s":"xs","x":-142,"y":-24.9},{"s":"xs","x":-137,"y":-32.2},{"s":"xs","x":-132,"y":-36.5},{"s":"xs","x":-127,"y":-40.5},{"s":"xs","x":-123,"y":-43},{"s":"xs","x":-120,"y":-39.8},{"s":"xs","x":-110,"y":-36.5},{"s":"xs","x":-101,"y":-34.3},{"s":"xs","x":-91,"y":-28.5},{"s":"xs","x":-81,"y":-25.6},{"s":"xs","x":-72,"y":-22},{"s":"xs","x":-64,"y":-19.8},{"s":"xs","x":-57,"y":-18.4},{"s":"xs","x":-47,"y":-22},{"s":"xs","x":-38,"y":-27.1},{"s":"xs","x":-28,"y":-22},{"s":"xs","x":-18,"y":-18},{"s":"xs","x":-11,"y":-16.2},{"s":"xs","x":-4,"y":-17.3},{"s":"xs","x":3,"y":-20.5},{"s":"xs","x":11,"y":-24.2},{"s":"xs","x":16,"y":-30},{"s":"xs","x":20,"y":-25.6},{"s":"xs","x":28,"y":-19.8},{"s":"xs","x":35,"y":-15.5},{"s":"xs","x":42,"y":-15.1},{"s":"xs","x":49,"y":-16.2},{"s":"xs","x":57,"y":-19.8},{"s":"xs","x":64,"y":-25.6},{"s":"xs","x":71,"y":-30},{"s":"xs","x":78,"y":-27.1},{"s":"xs","x":86,"y":-24.9},{"s":"xs","x":95,"y":-26.4},{"s":"xs","x":105,"y":-25.6},{"s":"xs","x":115,"y":-19.8},{"s":"xs","x":122,"y":-17.3},{"s":"xs","x":132,"y":-17.3},{"s":"xs","x":139,"y":-18.7},{"s":"xs","x":149,"y":-19.8},{"s":"xs","x":158,"y":-21.3},{"s":"xs","x":166,"y":-24.9},{"s":"xs","x":173,"y":-29.7},{"s":"xs","x":180,"y":-27.1},
{"s":"cs","x":-180,"y":-20.2},{"s":"cs","x":-174,"y":-22},{"s":"cs","x":-169,"y":-23.8},{"s":"cs","x":-164,"y":-19.8},{"s":"cs","x":-157,"y":-17.6},{"s":"cs","x":-149,"y":-20.5},{"s":"cs","x":-144,"y":-22.7},{"s":"cs","x":-139,"y":-25.6},{"s":"cs","x":-132,"y":-21.3},{"s":"cs","x":-123,"y":-17.6},{"s":"cs","x":-110,"y":-16.2},{"s":"cs","x":-96,"y":-15.5},{"s":"cs","x":-81,"y":-15.1},{"s":"cs","x":-67,"y":-14.7},{"s":"cs","x":-57,"y":-16.2},{"s":"cs","x":-47,"y":-21.3},{"s":"cs","x":-38,"y":-26.4},{"s":"cs","x":-33,"y":-28.5},{"s":"cs","x":-28,"y":-24.9},{"s":"cs","x":-21,"y":-21.6},{"s":"cs","x":-14,"y":-22.4},{"s":"cs","x":-9,"y":-20.2},{"s":"cs","x":-4,"y":-16.2},{"s":"cs","x":3,"y":-16.9},{"s":"cs","x":11,"y":-18.4},{"s":"cs","x":18,"y":-22.7},{"s":"cs","x":25,"y":-24.2},{"s":"cs","x":30,"y":-21.3},{"s":"cs","x":37,"y":-13.3},{"s":"cs","x":42,"y":-13.6},{"s":"cs","x":47,"y":-16.9},{"s":"cs","x":52,"y":-8.9},{"s":"cs","x":62,"y":-4.6},{"s":"cs","x":69,"y":-0.9},{"s":"cs","x":78,"y":-0.2},{"s":"cs","x":98,"y":-0.2},{"s":"cs","x":108,"y":-1.7},{"s":"cs","x":117,"y":-4.9},{"s":"cs","x":125,"y":-9.7},{"s":"cs","x":129,"y":-12.6},{"s":"cs","x":134,"y":-16.6},{"s":"cs","x":139,"y":-12.6},{"s":"cs","x":144,"y":-10.4},{"s":"cs","x":149,"y":-12.6},{"s":"cs","x":154,"y":-16.9},{"s":"cs","x":158,"y":-19.8},{"s":"cs","x":163,"y":-15.5},{"s":"cs","x":168,"y":-18.4},{"s":"cs","x":173,"y":-23.8},{"s":"cs","x":178,"y":-21.6},
{"s":"cm","x":-180,"y":-11.1},{"s":"cm","x":-176,"y":-17.6},{"s":"cm","x":-171,"y":-21.1},{"s":"cm","x":-164,"y":-19.1},{"s":"cm","x":-154,"y":-16.6},{"s":"cm","x":-147,"y":-21.3},{"s":"cm","x":-142,"y":-25.6},{"s":"cm","x":-137,"y":-26.4},{"s":"cm","x":-130,"y":-20.5},{"s":"cm","x":-123,"y":-16.6},{"s":"cm","x":-115,"y":-12.9},{"s":"cm","x":-106,"y":-10.4},{"s":"cm","x":-96,"y":-9.3},{"s":"cm","x":-84,"y":-9.3},{"s":"cm","x":-72,"y":-10.4},{"s":"cm","x":-64,"y":-12.9},{"s":"cm","x":-57,"y":-19.1},{"s":"cm","x":-52,"y":-22},{"s":"cm","x":-47,"y":-23.1},{"s":"cm","x":-43,"y":-19.8},{"s":"cm","x":-35,"y":-17.3},{"s":"cm","x":-31,"y":-19.8},{"s":"cm","x":-26,"y":-20.9},{"s":"cm","x":-21,"y":-21.3},{"s":"cm","x":-16,"y":-27.1},{"s":"cm","x":-11,"y":-19.8},{"s":"cm","x":-6,"y":-13.6},{"s":"cm","x":1,"y":-11.8},{"s":"cm","x":6,"y":-12.9},{"s":"cm","x":13,"y":-17.6},{"s":"cm","x":20,"y":-24.2},{"s":"cm","x":24,"y":-26.7},{"s":"cm","x":30,"y":-19.8},{"s":"cm","x":37,"y":-18.4},{"s":"cm","x":45,"y":-16.9},{"s":"cm","x":52,"y":-10.7},{"s":"cm","x":62,"y":-6},{"s":"cm","x":71,"y":-2.4},{"s":"cm","x":81,"y":-0.2},{"s":"cm","x":88,"y":0},{"s":"cm","x":98,"y":-0.2},{"s":"cm","x":110,"y":-2.4},{"s":"cm","x":120,"y":-4.6},{"s":"cm","x":127,"y":-7.5},{"s":"cm","x":134,"y":-11.8},{"s":"cm","x":139,"y":-16.2},{"s":"cm","x":144,"y":-18.7},{"s":"cm","x":151,"y":-19.8},{"s":"cm","x":156,"y":-22},{"s":"cm","x":158,"y":-24.9},{"s":"cm","x":163,"y":-21.3},{"s":"cm","x":168,"y":-13.6},{"s":"cm","x":175,"y":-12.6},{"s":"cm","x":180,"y":-13.3}
],
"c2": [
{"s":"xm","x":-180,"y":-24.9},{"s":"xm","x":-175,"y":-27.1},{"s":"xm","x":-169,"y":-28.5},{"s":"xm","x":-162,"y":-25.6},{"s":"xm","x":-154,"y":-23.8},{"s":"xm","x":-147,"y":-24.5},{"s":"xm","x":-140,"y":-27.1},{"s":"xm","x":-133,"y":-29.3},{"s":"xm","x":-126,"y":-28.5},{"s":"xm","x":-119,"y":-31.4},{"s":"xm","x":-114,"y":-36.5},{"s":"xm","x":-109,"y":-40.1},{"s":"xm","x":-104,"y":-32.2},{"s":"xm","x":-99,"y":-29.3},{"s":"xm","x":-94,"y":-31.4},{"s":"xm","x":-90,"y":-26.7},{"s":"xm","x":-85,"y":-28.5},{"s":"xm","x":-80,"y":-34.3},{"s":"xm","x":-75,"y":-32.2},{"s":"xm","x":-70,"y":-29.3},{"s":"xm","x":-65,"y":-30},{"s":"xm","x":-58,"y":-31.4},{"s":"xm","x":-53,"y":-35},{"s":"xm","x":-49,"y":-38.7},{"s":"xm","x":-44,"y":-32.2},{"s":"xm","x":-39,"y":-29.3},{"s":"xm","x":-34,"y":-32.9},{"s":"xm","x":-29,"y":-30.7},{"s":"xm","x":-25,"y":-34.3},{"s":"xm","x":-20,"y":-32.2},{"s":"xm","x":-15,"y":-30},{"s":"xm","x":-10,"y":-32.2},{"s":"xm","x":-5,"y":-33.6},{"s":"xm","x":0,"y":-32.2},{"s":"xm","x":4,"y":-31.4},{"s":"xm","x":8,"y":-35.8},{"s":"xm","x":11,"y":-40.9},{"s":"xm","x":14,"y":-34.3},{"s":"xm","x":19,"y":-28.5},{"s":"xm","x":24,"y":-27.1},{"s":"xm","x":28,"y":-27.8},{"s":"xm","x":36,"y":-26.7},{"s":"xm","x":43,"y":-25.6},{"s":"xm","x":50,"y":-22},{"s":"xm","x":57,"y":-16.9},{"s":"xm","x":62,"y":-14},{"s":"xm","x":67,"y":-16.9},{"s":"xm","x":72,"y":-19.8},{"s":"xm","x":77,"y":-23.1},{"s":"xm","x":81,"y":-19.8},{"s":"xm","x":86,"y":-21.3},{"s":"xm","x":93,"y":-19.8},{"s":"xm","x":101,"y":-24.9},{"s":"xm","x":105,"y":-27.8},{"s":"xm","x":110,"y":-25.6},{"s":"xm","x":115,"y":-28.5},{"s":"xm","x":118,"y":-31.4},{"s":"xm","x":122,"y":-27.1},{"s":"xm","x":127,"y":-22},{"s":"xm","x":134,"y":-20.5},{"s":"xm","x":141,"y":-21.3},{"s":"xm","x":149,"y":-22},{"s":"xm","x":156,"y":-21.3},{"s":"xm","x":163,"y":-22},{"s":"xm","x":170,"y":-23.4},{"s":"xm","x":180,"y":-22.7},
{"s":"xs","x":-180,"y":-29.3},{"s":"xs","x":-171,"y":-30},{"s":"xs","x":-162,"y":-30.7},{"s":"xs","x":-152,"y":-31.4},{"s":"xs","x":-142,"y":-32.9},{"s":"xs","x":-130,"y":-34.3},{"s":"xs","x":-118,"y":-32.9},{"s":"xs","x":-106,"y":-31.4},{"s":"xs","x":-94,"y":-30},{"s":"xs","x":-80,"y":-28.5},{"s":"xs","x":-65,"y":-27.1},{"s":"xs","x":-51,"y":-26},{"s":"xs","x":-39,"y":-26.7},{"s":"xs","x":-25,"y":-27.1},{"s":"xs","x":-15,"y":-26.4},{"s":"xs","x":-8,"y":-23.4},{"s":"xs","x":0,"y":-21.3},{"s":"xs","x":9,"y":-19.1},{"s":"xs","x":19,"y":-16.9},{"s":"xs","x":31,"y":-14.7},{"s":"xs","x":45,"y":-13.6},{"s":"xs","x":60,"y":-13.6},{"s":"xs","x":69,"y":-15.5},{"s":"xs","x":79,"y":-18},{"s":"xs","x":93,"y":-20.5},{"s":"xs","x":108,"y":-21.3},{"s":"xs","x":117,"y":-22},{"s":"xs","x":125,"y":-24.9},{"s":"xs","x":132,"y":-28.5},{"s":"xs","x":137,"y":-32.2},{"s":"xs","x":141,"y":-35.8},{"s":"xs","x":146,"y":-37.2},{"s":"xs","x":153,"y":-35},{"s":"xs","x":163,"y":-32.2},{"s":"xs","x":172,"y":-30},{"s":"xs","x":180,"y":-28.9},
{"s":"cs","x":-180,"y":-21.3},{"s":"cs","x":-174,"y":-23.4},{"s":"cs","x":-169,"y":-27.1},{"s":"cs","x":-164,"y":-32.2},{"s":"cs","x":-159,"y":-30},{"s":"cs","x":-152,"y":-24.9},{"s":"cs","x":-145,"y":-23.1},{"s":"cs","x":-138,"y":-24.2},{"s":"cs","x":-130,"y":-29.3},{"s":"cs","x":-126,"y":-35.8},{"s":"cs","x":-122,"y":-40.1},{"s":"cs","x":-118,"y":-32.2},{"s":"cs","x":-113,"y":-24.2},{"s":"cs","x":-106,"y":-19.8},{"s":"cs","x":-99,"y":-17.3},{"s":"cs","x":-92,"y":-17.6},{"s":"cs","x":-85,"y":-19.8},{"s":"cs","x":-77,"y":-24.2},{"s":"cs","x":-73,"y":-29.3},{"s":"cs","x":-68,"y":-27.1},{"s":"cs","x":-63,"y":-33.6},{"s":"cs","x":-58,"y":-32.2},{"s":"cs","x":-53,"y":-22},{"s":"cs","x":-49,"y":-15.5},{"s":"cs","x":-44,"y":-19.8},{"s":"cs","x":-39,"y":-28.5},{"s":"cs","x":-34,"y":-32.2},{"s":"cs","x":-29,"y":-29.3},{"s":"cs","x":-25,"y":-37.2},{"s":"cs","x":-20,"y":-28.5},{"s":"cs","x":-15,"y":-22.7},{"s":"cs","x":-10,"y":-18.4},{"s":"cs","x":-5,"y":-16.9},{"s":"cs","x":0,"y":-21.3},{"s":"cs","x":4,"y":-27.1},{"s":"cs","x":9,"y":-21.3},{"s":"cs","x":14,"y":-19.8},{"s":"cs","x":19,"y":-21.3},{"s":"cs","x":24,"y":-19.8},{"s":"cs","x":28,"y":-14},{"s":"cs","x":33,"y":-14.7},{"s":"cs","x":38,"y":-19.8},{"s":"cs","x":43,"y":-24.2},{"s":"cs","x":49,"y":-22.7},{"s":"cs","x":53,"y":-28.5},{"s":"cs","x":57,"y":-19.8},{"s":"cs","x":62,"y":-12.6},{"s":"cs","x":69,"y":-6.8},{"s":"cs","x":77,"y":-2},{"s":"cs","x":86,"y":-0.2},{"s":"cs","x":98,"y":-0.2},{"s":"cs","x":108,"y":-3.1},{"s":"cs","x":115,"y":-8.9},{"s":"cs","x":120,"y":-16.9},{"s":"cs","x":125,"y":-27.1},{"s":"cs","x":130,"y":-35},{"s":"cs","x":135,"y":-31.4},{"s":"cs","x":139,"y":-27.1},{"s":"cs","x":144,"y":-19.8},{"s":"cs","x":149,"y":-14.7},{"s":"cs","x":154,"y":-14.7},{"s":"cs","x":158,"y":-21.3},{"s":"cs","x":163,"y":-32.9},{"s":"cs","x":166,"y":-40.1},{"s":"cs","x":169,"y":-38.7},{"s":"cs","x":173,"y":-35.8},{"s":"cs","x":178,"y":-19.8},
{"s":"cm","x":-180,"y":-18.4},{"s":"cm","x":-177,"y":-16.2},{"s":"cm","x":-174,"y":-16.2},{"s":"cm","x":-169,"y":-19.8},{"s":"cm","x":-162,"y":-24.9},{"s":"cm","x":-157,"y":-25.6},{"s":"cm","x":-152,"y":-24.9},{"s":"cm","x":-147,"y":-27.1},{"s":"cm","x":-142,"y":-22.7},{"s":"cm","x":-135,"y":-17.3},{"s":"cm","x":-128,"y":-17.3},{"s":"cm","x":-123,"y":-21.3},{"s":"cm","x":-118,"y":-30.7},{"s":"cm","x":-116,"y":-35},{"s":"cm","x":-113,"y":-30},{"s":"cm","x":-109,"y":-20.5},{"s":"cm","x":-102,"y":-19.1},{"s":"cm","x":-94,"y":-17.3},{"s":"cm","x":-85,"y":-17.3},{"s":"cm","x":-77,"y":-19.1},{"s":"cm","x":-73,"y":-22.7},{"s":"cm","x":-68,"y":-30},{"s":"cm","x":-65,"y":-32.2},{"s":"cm","x":-62,"y":-28.5},{"s":"cm","x":-58,"y":-19.1},{"s":"cm","x":-51,"y":-17.6},{"s":"cm","x":-46,"y":-18},{"s":"cm","x":-41,"y":-22},{"s":"cm","x":-37,"y":-23.4},{"s":"cm","x":-29,"y":-19.8},{"s":"cm","x":-25,"y":-22},{"s":"cm","x":-20,"y":-19.8},{"s":"cm","x":-15,"y":-15.5},{"s":"cm","x":-10,"y":-12.9},{"s":"cm","x":-5,"y":-16.2},{"s":"cm","x":0,"y":-21.3},{"s":"cm","x":4,"y":-19.8},{"s":"cm","x":9,"y":-19.1},{"s":"cm","x":14,"y":-20.2},{"s":"cm","x":19,"y":-18.7},{"s":"cm","x":24,"y":-20.5},{"s":"cm","x":28,"y":-16.9},{"s":"cm","x":33,"y":-10.7},{"s":"cm","x":37,"y":-10.4},{"s":"cm","x":40,"y":-14.7},{"s":"cm","x":44,"y":-22},{"s":"cm","x":48,"y":-27.8},{"s":"cm","x":52,"y":-24.2},{"s":"cm","x":57,"y":-16.2},{"s":"cm","x":64,"y":-10.4},{"s":"cm","x":72,"y":-5.3},{"s":"cm","x":79,"y":-1.3},{"s":"cm","x":89,"y":0},{"s":"cm","x":98,"y":-0.6},{"s":"cm","x":108,"y":-3.8},{"s":"cm","x":115,"y":-8.2},{"s":"cm","x":120,"y":-14},{"s":"cm","x":125,"y":-24.2},{"s":"cm","x":132,"y":-22.7},{"s":"cm","x":137,"y":-17.6},{"s":"cm","x":141,"y":-12.6},{"s":"cm","x":146,"y":-8.9},{"s":"cm","x":151,"y":-9.7},{"s":"cm","x":156,"y":-15.5},{"s":"cm","x":160,"y":-19.1},{"s":"cm","x":165,"y":-19.1},{"s":"cm","x":170,"y":-21.3},{"s":"cm","x":174,"y":-23.8},{"s":"cm","x":180,"y":-16.2}
],
"d2": [
{"s":"xm","x":-180,"y":-19.1},{"s":"xm","x":-175,"y":-17.6},{"s":"xm","x":-170,"y":-16.6},{"s":"xm","x":-163,"y":-17.3},{"s":"xm","x":-154,"y":-16.6},{"s":"xm","x":-146,"y":-17.6},{"s":"xm","x":-139,"y":-19.8},{"s":"xm","x":-132,"y":-22.4},{"s":"xm","x":-127,"y":-24.9},{"s":"xm","x":-122,"y":-32.2},{"s":"xm","x":-118,"y":-27.1},{"s":"xm","x":-113,"y":-25.6},{"s":"xm","x":-108,"y":-30},{"s":"xm","x":-103,"y":-38.7},{"s":"xm","x":-101,"y":-40.1},{"s":"xm","x":-96,"y":-32.9},{"s":"xm","x":-91,"y":-28.5},{"s":"xm","x":-84,"y":-23.4},{"s":"xm","x":-77,"y":-19.1},{"s":"xm","x":-69,"y":-16.6},{"s":"xm","x":-62,"y":-15.5},{"s":"xm","x":-55,"y":-14.4},{"s":"xm","x":-48,"y":-12.6},{"s":"xm","x":-40,"y":-10.2},{"s":"xm","x":-36,"y":-10.7},{"s":"xm","x":-28,"y":-14.7},{"s":"xm","x":-24,"y":-17.6},{"s":"xm","x":-16,"y":-19.1},{"s":"xm","x":-9,"y":-19.1},{"s":"xm","x":-2,"y":-18},{"s":"xm","x":5,"y":-16.2},{"s":"xm","x":13,"y":-15.8},{"s":"xm","x":20,"y":-16.2},{"s":"xm","x":27,"y":-17.6},{"s":"xm","x":34,"y":-16.2},{"s":"xm","x":41,"y":-16.2},{"s":"xm","x":46,"y":-20.2},{"s":"xm","x":53,"y":-23.8},{"s":"xm","x":61,"y":-16.2},{"s":"xm","x":68,"y":-15.1},{"s":"xm","x":75,"y":-15.8},{"s":"xm","x":82,"y":-16.9},{"s":"xm","x":89,"y":-19.1},{"s":"xm","x":96,"y":-21.3},{"s":"xm","x":104,"y":-25.6},{"s":"xm","x":111,"y":-27.1},{"s":"xm","x":116,"y":-19.8},{"s":"xm","x":121,"y":-16.6},{"s":"xm","x":128,"y":-16.9},{"s":"xm","x":133,"y":-16.6},{"s":"xm","x":140,"y":-19.8},{"s":"xm","x":145,"y":-23.8},{"s":"xm","x":152,"y":-22},{"s":"xm","x":159,"y":-20.5},{"s":"xm","x":166,"y":-20.5},{"s":"xm","x":174,"y":-19.8},{"s":"xm","x":180,"y":-19.1},
{"s":"xs","x":-180,"y":-25.6},{"s":"xs","x":-173,"y":-22},{"s":"xs","x":-163,"y":-18.7},{"s":"xs","x":-151,"y":-17.3},{"s":"xs","x":-141,"y":-19.5},{"s":"xs","x":-132,"y":-22},{"s":"xs","x":-123,"y":-24.2},{"s":"xs","x":-113,"y":-26},{"s":"xs","x":-101,"y":-24.5},{"s":"xs","x":-86,"y":-23.1},{"s":"xs","x":-72,"y":-21.6},{"s":"xs","x":-57,"y":-19.8},{"s":"xs","x":-43,"y":-17.3},{"s":"xs","x":-36,"y":-15.8},{"s":"xs","x":-26,"y":-16.9},{"s":"xs","x":-16,"y":-18.7},{"s":"xs","x":-7,"y":-19.5},{"s":"xs","x":3,"y":-18.7},{"s":"xs","x":13,"y":-18},{"s":"xs","x":20,"y":-22},{"s":"xs","x":25,"y":-23.1},{"s":"xs","x":34,"y":-22},{"s":"xs","x":44,"y":-18.7},{"s":"xs","x":53,"y":-16.9},{"s":"xs","x":63,"y":-15.8},{"s":"xs","x":73,"y":-15.5},{"s":"xs","x":82,"y":-16.5},{"s":"xs","x":92,"y":-19.1},{"s":"xs","x":101,"y":-22.7},{"s":"xs","x":109,"y":-27.8},{"s":"xs","x":112,"y":-30},{"s":"xs","x":118,"y":-24},{"s":"xs","x":126,"y":-19.8},{"s":"xs","x":133,"y":-18},{"s":"xs","x":140,"y":-19.8},{"s":"xs","x":147,"y":-22.7},{"s":"xs","x":154,"y":-25.6},{"s":"xs","x":164,"y":-27.8},{"s":"xs","x":171,"y":-31.1},{"s":"xs","x":176,"y":-29.3},{"s":"xs","x":180,"y":-25.6},
{"s":"cs","x":-180,"y":-19.1},{"s":"cs","x":-173,"y":-22},{"s":"cs","x":-166,"y":-20.9},{"s":"cs","x":-158,"y":-21.3},{"s":"cs","x":-151,"y":-22.7},{"s":"cs","x":-141,"y":-23.4},{"s":"cs","x":-132,"y":-27.1},{"s":"cs","x":-125,"y":-24.9},{"s":"cs","x":-118,"y":-22},{"s":"cs","x":-110,"y":-21.3},{"s":"cs","x":-101,"y":-22.7},{"s":"cs","x":-89,"y":-23.1},{"s":"cs","x":-77,"y":-22.4},{"s":"cs","x":-64,"y":-21.3},{"s":"cs","x":-52,"y":-21.3},{"s":"cs","x":-43,"y":-20.5},{"s":"cs","x":-33,"y":-21.3},{"s":"cs","x":-24,"y":-22},{"s":"cs","x":-14,"y":-21.3},{"s":"cs","x":-7,"y":-20.5},{"s":"cs","x":0,"y":-20.2},{"s":"cs","x":8,"y":-25.6},{"s":"cs","x":13,"y":-27.1},{"s":"cs","x":17,"y":-22},{"s":"cs","x":25,"y":-24.5},{"s":"cs","x":29,"y":-30},{"s":"cs","x":34,"y":-23.4},{"s":"cs","x":39,"y":-22},{"s":"cs","x":44,"y":-27.8},{"s":"cs","x":48,"y":-21.3},{"s":"cs","x":53,"y":-12.2},{"s":"cs","x":61,"y":-6.8},{"s":"cs","x":68,"y":-3.1},{"s":"cs","x":77,"y":-0.6},{"s":"cs","x":89,"y":0},{"s":"cs","x":99,"y":-0.6},{"s":"cs","x":109,"y":-4.6},{"s":"cs","x":116,"y":-11.1},{"s":"cs","x":123,"y":-13.3},{"s":"cs","x":130,"y":-16.9},{"s":"cs","x":138,"y":-16.2},{"s":"cs","x":145,"y":-20.2},{"s":"cs","x":150,"y":-18},{"s":"cs","x":157,"y":-19.8},{"s":"cs","x":164,"y":-19.1},{"s":"cs","x":171,"y":-18.7},{"s":"cs","x":176,"y":-19.1},
{"s":"cm","x":-180,"y":-21.3},{"s":"cm","x":-177,"y":-24.9},{"s":"cm","x":-174,"y":-24.2},{"s":"cm","x":-170,"y":-20.5},{"s":"cm","x":-168,"y":-19.8},{"s":"cm","x":-161,"y":-23.1},{"s":"cm","x":-154,"y":-25.6},{"s":"cm","x":-150,"y":-24.2},{"s":"cm","x":-144,"y":-22},{"s":"cm","x":-139,"y":-24.2},{"s":"cm","x":-134,"y":-28.5},{"s":"cm","x":-130,"y":-28.9},{"s":"cm","x":-123,"y":-26.7},{"s":"cm","x":-118,"y":-27.8},{"s":"cm","x":-110,"y":-30.3},{"s":"cm","x":-103,"y":-29.6},{"s":"cm","x":-96,"y":-28.2},{"s":"cm","x":-89,"y":-27.8},{"s":"cm","x":-81,"y":-30},{"s":"cm","x":-74,"y":-33.6},{"s":"cm","x":-69,"y":-34.3},{"s":"cm","x":-64,"y":-30},{"s":"cm","x":-60,"y":-26.4},{"s":"cm","x":-55,"y":-25.6},{"s":"cm","x":-50,"y":-27.1},{"s":"cm","x":-45,"y":-29.6},{"s":"cm","x":-40,"y":-26.4},{"s":"cm","x":-36,"y":-22},{"s":"cm","x":-31,"y":-22.4},{"s":"cm","x":-26,"y":-26.4},{"s":"cm","x":-19,"y":-24.9},{"s":"cm","x":-12,"y":-23.8},{"s":"cm","x":-7,"y":-25.6},{"s":"cm","x":-3,"y":-30},{"s":"cm","x":0,"y":-37.2},{"s":"cm","x":3,"y":-30},{"s":"cm","x":8,"y":-29.3},{"s":"cm","x":13,"y":-25.6},{"s":"cm","x":17,"y":-23.1},{"s":"cm","x":22,"y":-23.8},{"s":"cm","x":27,"y":-20.5},{"s":"cm","x":32,"y":-17.6},{"s":"cm","x":39,"y":-16.9},{"s":"cm","x":46,"y":-15.5},{"s":"cm","x":53,"y":-12.6},{"s":"cm","x":61,"y":-6.8},{"s":"cm","x":68,"y":-2.4},{"s":"cm","x":77,"y":-0.2},{"s":"cm","x":87,"y":0},{"s":"cm","x":97,"y":-0.2},{"s":"cm","x":104,"y":-2.4},{"s":"cm","x":111,"y":-6.8},{"s":"cm","x":118,"y":-12.6},{"s":"cm","x":126,"y":-15.1},{"s":"cm","x":133,"y":-15.8},{"s":"cm","x":138,"y":-16.9},{"s":"cm","x":142,"y":-15.5},{"s":"cm","x":147,"y":-14.7},{"s":"cm","x":151,"y":-17.6},{"s":"cm","x":154,"y":-23.1},{"s":"cm","x":159,"y":-18.4},{"s":"cm","x":164,"y":-16.9},{"s":"cm","x":169,"y":-19.5},{"s":"cm","x":174,"y":-18.7},{"s":"cm","x":180,"y":-22}
]
},
"spacing": 8,
"vconcat": [
{"hconcat": [
  {"width": 241, "height": 176, "data": {"name": "a1"}, "mark": {"type": "line", "clip": true, "interpolate": "monotone", "strokeWidth": 2.5},
   "encoding": {
    "x": {"field": "x", "type": "quantitative", "scale": {"domain": [-180, 180]}, "axis": {"title": "Phi (deg)", "values": [-180, -120, -60, 0, 60, 120, 180]}},
    "y": {"field": "y", "type": "quantitative", "scale": {"domain": [-40, 0]}, "axis": {"title": "Normalized Gain (dB)", "values": [-40, -30, -20, -10, 0]}},
    "color": {"field": "s", "type": "nominal", "scale": {"domain": ["cs", "xs", "cm", "xm"], "range": ["#ff0000", "#22dd22", "#0000f0", "#ff8c1a"]},
      "legend": {"title": null, "orient": "none", "legendX": 366, "legendY": -64, "direction": "horizontal", "columns": 2, "symbolType": "stroke", "symbolSize": 900, "symbolStrokeWidth": 3, "labelFont": "Liberation Sans", "labelFontSize": 14, "labelFontWeight": "bold", "labelColor": "#000", "columnPadding": 56, "rowPadding": -12, "labelOffset": 8,
        "labelExpr": "datum.value == 'cs' ? 'Co-pol. (Simulated)' : datum.value == 'xs' ? 'Cross-pol. (Simulated)' : datum.value == 'cm' ? 'Co-pol. (Measured)' : 'Cross-pol. (Measured)'"}},
    "strokeDash": {"field": "s", "type": "nominal", "scale": {"domain": ["cs", "xs", "cm", "xm"], "range": [[7, 4], [10, 4, 2, 4], [1, 0], [2, 3]]},
      "legend": {"title": null, "orient": "none", "legendX": 366, "legendY": -64, "direction": "horizontal", "columns": 2, "symbolType": "stroke", "symbolSize": 900, "symbolStrokeWidth": 3, "labelFont": "Liberation Sans", "labelFontSize": 14, "labelFontWeight": "bold", "labelColor": "#000", "columnPadding": 56, "rowPadding": -12, "labelOffset": 8,
        "labelExpr": "datum.value == 'cs' ? 'Co-pol. (Simulated)' : datum.value == 'xs' ? 'Cross-pol. (Simulated)' : datum.value == 'cm' ? 'Co-pol. (Measured)' : 'Cross-pol. (Measured)'"}}
   },
   "title": {"text": "E-plane"}},
  {"hconcat": [
    {"width": 248, "height": 184, "data": {"name": "b1"}, "mark": {"type": "line", "clip": true, "interpolate": "monotone", "strokeWidth": 2.5},
     "encoding": {
      "x": {"field": "x", "type": "quantitative", "scale": {"domain": [-180, 180]}, "axis": {"title": "Phi (deg)", "values": [-180, -120, -60, 0, 60, 120, 180]}},
      "y": {"field": "y", "type": "quantitative", "scale": {"domain": [-40, 0]}, "axis": {"title": "Normalized Gain (dB)", "values": [-40, -30, -20, -10, 0]}},
      "color": {"field": "s", "type": "nominal", "scale": {"domain": ["cs", "xs", "cm", "xm"], "range": ["#ff0000", "#22dd22", "#0000f0", "#ff8c1a"]}},
      "strokeDash": {"field": "s", "type": "nominal", "scale": {"domain": ["cs", "xs", "cm", "xm"], "range": [[7, 4], [10, 4, 2, 4], [1, 0], [2, 3]]}}
     },
     "title": {"text": "E-plane"}},
    {"width": 249, "height": 184, "data": {"name": "c1"}, "mark": {"type": "line", "clip": true, "interpolate": "monotone", "strokeWidth": 2.5},
     "encoding": {
      "x": {"field": "x", "type": "quantitative", "scale": {"domain": [-180, 180]}, "axis": {"title": "Phi (deg)", "values": [-180, -120, -60, 0, 60, 120, 180]}},
      "y": {"field": "y", "type": "quantitative", "scale": {"domain": [-40, 0]}, "axis": {"title": "Normalized Gain (dB)", "values": [-40, -30, -20, -10, 0]}},
      "color": {"field": "s", "type": "nominal", "scale": {"domain": ["cs", "xs", "cm", "xm"], "range": ["#ff0000", "#22dd22", "#0000f0", "#ff8c1a"]}},
      "strokeDash": {"field": "s", "type": "nominal", "scale": {"domain": ["cs", "xs", "cm", "xm"], "range": [[7, 4], [10, 4, 2, 4], [1, 0], [2, 3]]}}
     },
     "title": {"text": "E-plane"}},
    {"width": 249, "height": 184, "data": {"name": "d1"}, "mark": {"type": "line", "clip": true, "interpolate": "monotone", "strokeWidth": 2.5},
     "encoding": {
      "x": {"field": "x", "type": "quantitative", "scale": {"domain": [-180, 180]}, "axis": {"title": "Phi (deg)", "values": [-180, -120, -60, 0, 60, 120, 180]}},
      "y": {"field": "y", "type": "quantitative", "scale": {"domain": [-40, 0]}, "axis": {"title": "Normalized Gain (dB)", "values": [-40, -30, -20, -10, 0]}},
      "color": {"field": "s", "type": "nominal", "scale": {"domain": ["cs", "xs", "cm", "xm"], "range": ["#ff0000", "#22dd22", "#0000f0", "#ff8c1a"]}},
      "strokeDash": {"field": "s", "type": "nominal", "scale": {"domain": ["cs", "xs", "cm", "xm"], "range": [[7, 4], [10, 4, 2, 4], [1, 0], [2, 3]]}}
     },
     "title": {"text": "E-plane"}}
  ], "spacing": 20}
 ], "spacing": 29, "center": true},
{"hconcat": [
  {"width": 241, "height": 176, "data": {"name": "a2"}, "mark": {"type": "line", "clip": true, "interpolate": "monotone", "strokeWidth": 2.5},
   "encoding": {
    "x": {"field": "x", "type": "quantitative", "scale": {"domain": [-180, 180]}, "axis": {"title": "Theta (deg)", "values": [-180, -120, -60, 0, 60, 120, 180]}},
    "y": {"field": "y", "type": "quantitative", "scale": {"domain": [-40, 0]}, "axis": {"title": "Normalized Gain (dB)", "values": [-40, -30, -20, -10, 0]}},
    "color": {"field": "s", "type": "nominal", "scale": {"domain": ["cs", "xs", "cm", "xm"], "range": ["#ff0000", "#22dd22", "#0000f0", "#ff8c1a"]}},
    "strokeDash": {"field": "s", "type": "nominal", "scale": {"domain": ["cs", "xs", "cm", "xm"], "range": [[7, 4], [10, 4, 2, 4], [1, 0], [2, 3]]}}
   },
   "title": {"text": "H-plane", "subtitle": "(a)", "dy": 5}},
  {"hconcat": [
    {"width": 248, "height": 184, "data": {"name": "b2"}, "mark": {"type": "line", "clip": true, "interpolate": "monotone", "strokeWidth": 2.5},
     "encoding": {
      "x": {"field": "x", "type": "quantitative", "scale": {"domain": [-180, 180]}, "axis": {"title": "Theta (deg)", "values": [-180, -120, -60, 0, 60, 120, 180]}},
      "y": {"field": "y", "type": "quantitative", "scale": {"domain": [-40, 0]}, "axis": {"title": "Normalized Gain (dB)", "values": [-40, -30, -20, -10, 0]}},
      "color": {"field": "s", "type": "nominal", "scale": {"domain": ["cs", "xs", "cm", "xm"], "range": ["#ff0000", "#22dd22", "#0000f0", "#ff8c1a"]}},
      "strokeDash": {"field": "s", "type": "nominal", "scale": {"domain": ["cs", "xs", "cm", "xm"], "range": [[7, 4], [10, 4, 2, 4], [1, 0], [2, 3]]}}
     },
     "title": {"text": "H-plane", "subtitle": "(b)", "dy": 5}},
    {"width": 249, "height": 184, "data": {"name": "c2"}, "mark": {"type": "line", "clip": true, "interpolate": "monotone", "strokeWidth": 2.5},
     "encoding": {
      "x": {"field": "x", "type": "quantitative", "scale": {"domain": [-180, 180]}, "axis": {"title": "Theta (deg)", "values": [-180, -120, -60, 0, 60, 120, 180]}},
      "y": {"field": "y", "type": "quantitative", "scale": {"domain": [-40, 0]}, "axis": {"title": "Normalized Gain (dB)", "values": [-40, -30, -20, -10, 0]}},
      "color": {"field": "s", "type": "nominal", "scale": {"domain": ["cs", "xs", "cm", "xm"], "range": ["#ff0000", "#22dd22", "#0000f0", "#ff8c1a"]}},
      "strokeDash": {"field": "s", "type": "nominal", "scale": {"domain": ["cs", "xs", "cm", "xm"], "range": [[7, 4], [10, 4, 2, 4], [1, 0], [2, 3]]}}
     },
     "title": {"text": "H-plane", "subtitle": "(c)", "dy": 5}},
    {"width": 249, "height": 184, "data": {"name": "d2"}, "mark": {"type": "line", "clip": true, "interpolate": "monotone", "strokeWidth": 2.5},
     "encoding": {
      "x": {"field": "x", "type": "quantitative", "scale": {"domain": [-180, 180]}, "axis": {"title": "Theta (deg)", "values": [-180, -120, -60, 0, 60, 120, 180]}},
      "y": {"field": "y", "type": "quantitative", "scale": {"domain": [-40, 0]}, "axis": {"title": "Normalized Gain (dB)", "values": [-40, -30, -20, -10, 0]}},
      "color": {"field": "s", "type": "nominal", "scale": {"domain": ["cs", "xs", "cm", "xm"], "range": ["#ff0000", "#22dd22", "#0000f0", "#ff8c1a"]}},
      "strokeDash": {"field": "s", "type": "nominal", "scale": {"domain": ["cs", "xs", "cm", "xm"], "range": [[7, 4], [10, 4, 2, 4], [1, 0], [2, 3]]}}
     },
     "title": {"text": "H-plane", "subtitle": "(d)", "dy": 5}}
  ], "spacing": 20}
 ], "spacing": 29, "center": true}
],
"config": {
 "view": {"stroke": "#333", "strokeWidth": 1},
 "axis": {"labelFont": "Liberation Sans", "labelFontSize": 12, "labelFontWeight": "bold", "labelColor": "#000", "titleFont": "Liberation Sans", "titleFontSize": 13, "titleFontWeight": "bold", "titleColor": "#000", "grid": true, "gridColor": "#777", "gridDash": [1, 2], "gridWidth": 1, "domain": false, "tickColor": "#333", "tickSize": -5, "labelPadding": 8, "labelFlush": false, "labelOverlap": false},
 "axisX": {"titlePadding": 6, "labelPadding": 11},
 "axisY": {"titlePadding": 8},
 "title": {"orient": "bottom", "font": "Liberation Serif", "fontSize": 17, "fontWeight": "bold", "color": "#000", "frame": "group", "anchor": "middle", "offset": 12, "subtitleFont": "Liberation Serif", "subtitleFontSize": 17, "subtitleFontWeight": "normal", "subtitleColor": "#000", "subtitlePadding": 16}
}
}
